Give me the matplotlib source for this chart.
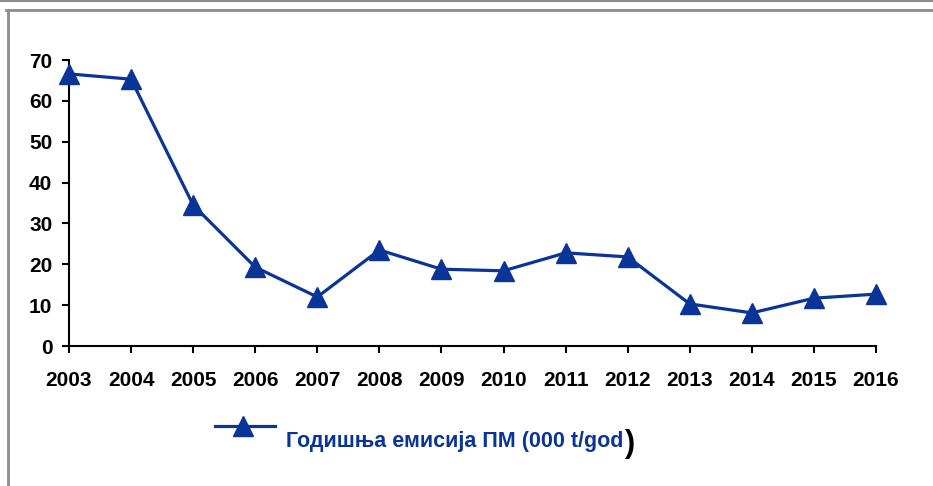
import matplotlib
matplotlib.use("Agg")
import matplotlib.pyplot as plt
from matplotlib.lines import Line2D

plt.rcParams['font.family'] = ['Liberation Sans', 'DejaVu Sans']

years = [2003, 2004, 2005, 2006, 2007, 2008, 2009, 2010, 2011, 2012, 2013, 2014, 2015, 2016]
emisija = [66.6, 65.3, 34.5, 19.3, 12.0, 23.5, 18.8, 18.4, 22.8, 21.8, 10.3, 8.1, 11.7, 12.7]
label = "Годишња емисија ПМ (000 t/god"
yticks = [0, 10, 20, 30, 40, 50, 60, 70]

blue = '#0a3497'

fig = plt.figure(figsize=(9.33, 4.86), dpi=100)
ax = fig.add_axes([69/933, 1-346/486, (876-69)/933, (346-60)/486])

ax.plot(years, emisija, color=blue, lw=2.3, marker='^', markersize=15,
        markerfacecolor=blue, markeredgecolor=blue, clip_on=False, zorder=3)

ax.set_xlim(2003, 2016)
ax.set_ylim(0, 70)
ax.set_xticks(years)
ax.set_yticks(yticks)
for s in ['top', 'right']:
    ax.spines[s].set_visible(False)
for s in ['left', 'bottom']:
    ax.spines[s].set_linewidth(1.5)
ax.tick_params(axis='x', length=5, width=1.5, pad=13, labelsize=15)
ax.tick_params(axis='y', length=5, width=1.5, pad=7, labelsize=15)
for t in ax.get_xticklabels() + ax.get_yticklabels():
    t.set_fontweight('bold')

# legend drawn by hand
fig.add_artist(Line2D([215/933, 275/933], [1-426/486, 1-426/486], color=blue, lw=2.3,
                      transform=fig.transFigure))
fig.add_artist(Line2D([243/933], [1-426/486], marker='^', markersize=15, color=blue,
                      transform=fig.transFigure))
fig.text(286/933, 1-441/486, label, color=blue, fontsize=15.5, fontweight='bold',
         ha='left', va='center')
fig.text(625/933, 1-444/486, ")", color='black', fontsize=22, fontweight='bold',
         ha='left', va='center')

# frame lines
gray = '#8c8c8c'
fig.add_artist(Line2D([0, 1], [1-1/486, 1-1/486], color=gray, lw=1.5, transform=fig.transFigure))
fig.add_artist(Line2D([6/933, 1], [1-10/486, 1-10/486], color=gray, lw=2, transform=fig.transFigure))
fig.add_artist(Line2D([8/933, 8/933], [0, 1-10/486], color=gray, lw=2, transform=fig.transFigure))

fig.savefig('out.png', dpi=100)
